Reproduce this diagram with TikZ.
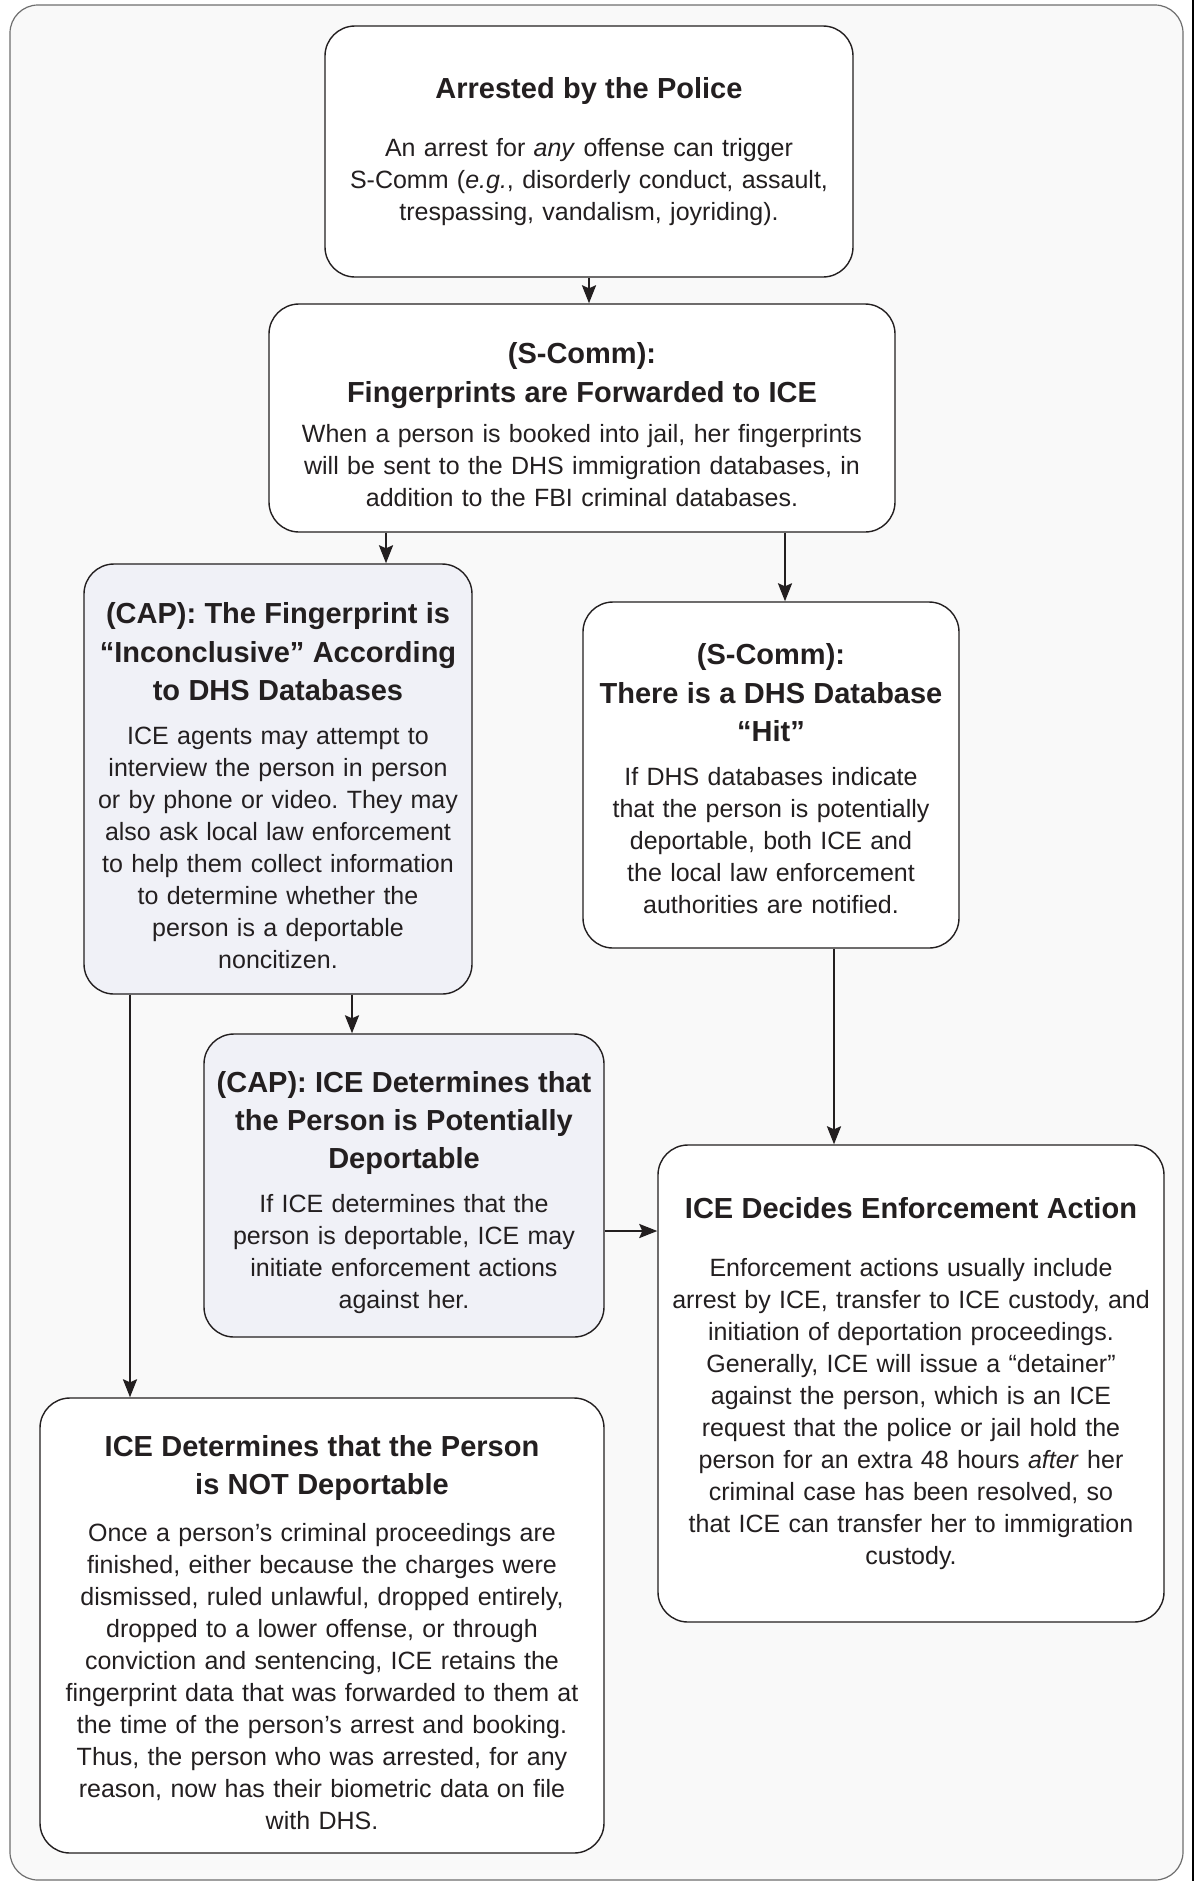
\documentclass[tikz,border=0pt]{standalone}
\usepackage{fontspec}
\setmainfont{Liberation Sans}
\usetikzlibrary{arrows.meta}
\definecolor{panel}{HTML}{F9F9F9}
\definecolor{panelline}{HTML}{6E6E6E}
\definecolor{capfill}{HTML}{F0F1F7}
\definecolor{ink}{HTML}{231F20}
\newcommand{\ttl}{\fontsize{14.5}{19.2}\selectfont\bfseries}
\newcommand{\bdy}{\fontsize{12.5}{16}\selectfont}
\frenchspacing

\begin{document}
\begin{tikzpicture}[x=0.5pt,y=-0.5pt,
  box/.style={draw=ink, line width=0.7pt, fill=white, rounded corners=15pt,
    align=center, font=\bdy, text=ink, inner xsep=2pt, inner ysep=0pt},
  capbox/.style={box, fill=capfill},
  arr/.style={draw=ink, line width=1.2pt, -{Stealth[length=9pt,width=7pt,inset=1.5pt]}}]
  \useasboundingbox (0,0) rectangle (1199,1881);
  \draw[panelline, fill=panel, line width=0.6pt, rounded corners=14pt] (10,5) rectangle (1183,1880);
  \draw[line width=1.2pt] (1193,0) -- (1193,1881);

  % the arrest and the fingerprint check
  \node (arrest) at (589,151.5) [box, text width=260pt, minimum height=125.5pt]
    {{\ttl Arrested by the Police\par}\vspace{13.4pt}%
     An arrest for \textit{any} offense can trigger\\
     S-Comm (\textit{e.g.}, disorderly conduct, assault,\\
     trespassing, vandalism, joyriding).};
  \node (fwd) at (582,418) [box, text width=309pt, minimum height=114pt]
    {{\ttl\rule{0pt}{17.5pt}(S-Comm):\\Fingerprints are Forwarded to ICE\par}\vspace{4.4pt}%
     When a person is booked into jail, her fingerprints\\
     will be sent to the DHS immigration databases, in\\
     addition to the FBI criminal databases.};

  % the two outcomes of the check
  \node (inconcl) at (278,779) [capbox, text width=190pt, minimum height=215pt]
    {{\ttl\rule{0pt}{17.5pt}(CAP): The Fingerprint is\\“Inconclusive” According\\to DHS Databases\par}\vspace{6pt}%
     ICE agents may attempt to\\
     interview the person in person\\
     or by phone or video. They may\\
     also ask local law enforcement\\
     to help them collect information\\
     to determine whether the\\
     person is a deportable\\
     noncitizen.};
  \node (hit) at (771,775) [box, text width=184pt, minimum height=173pt]
    {{\ttl\rule{0pt}{14.5pt}(S-Comm):\\There is a DHS Database\\“Hit”\par}\vspace{6pt}%
     If DHS databases indicate\\
     that the person is potentially\\
     deportable, both ICE and\\
     the local law enforcement\\
     authorities are notified.};
  \node (capdep) at (404,1185.5) [capbox, text width=196pt, minimum height=151.5pt]
    {{\ttl\rule{0pt}{17.5pt}(CAP): ICE Determines that\\the Person is Potentially\\Deportable\par}\vspace{6pt}%
     If ICE determines that the\\
     person is deportable, ICE may\\
     initiate enforcement actions\\
     against her.};

  % what ICE does next
  \node (action) at (911,1383.5) [box, text width=249pt, minimum height=238.5pt]
    {{\ttl ICE Decides Enforcement Action\par}\vspace{13.4pt}%
     Enforcement actions usually include\\
     arrest by ICE, transfer to ICE custody, and\\
     initiation of deportation proceedings.\\
     Generally, ICE will issue a “detainer”\\
     against the person, which is an ICE\\
     request that the police or jail hold the\\
     person for an extra 48 hours \textit{after} her\\
     criminal case has been resolved, so\\
     that ICE can transfer her to immigration\\
     custody.};
  \node (notdep) at (322,1625.5) [box, text width=278pt, minimum height=227.5pt]
    {{\ttl\rule{0pt}{17.5pt}ICE Determines that the Person\\is NOT Deportable\par}\vspace{7.4pt}%
     Once a person’s criminal proceedings are\\
     finished, either because the charges were\\
     dismissed, ruled unlawful, dropped entirely,\\
     dropped to a lower offense, or through\\
     conviction and sentencing, ICE retains the\\
     fingerprint data that was forwarded to them at\\
     the time of the person’s arrest and booking.\\
     Thus, the person who was arrested, for any\\
     reason, now has their biometric data on file\\
     with DHS.};

  % connectors
  \draw[arr] (arrest.south) -- (arrest.south |- fwd.north);
  \draw[arr] ([xshift=54pt]inconcl.north |- fwd.south) -- ([xshift=54pt]inconcl.north);
  \draw[arr] ([xshift=7pt]hit.north |- fwd.south) -- ([xshift=7pt]hit.north);
  \draw[arr] ([xshift=-26pt]capdep.north |- inconcl.south) -- ([xshift=-26pt]capdep.north);
  \draw[arr] ([xshift=-96pt]notdep.north |- inconcl.south) -- ([xshift=-96pt]notdep.north);
  \draw[arr] ([xshift=-38.5pt]action.north |- hit.south) -- ([xshift=-38.5pt]action.north);
  \draw[arr] ([yshift=-22.75pt]capdep.east) -- ([yshift=-22.75pt]capdep.east -| action.west);
\end{tikzpicture}
\end{document}
